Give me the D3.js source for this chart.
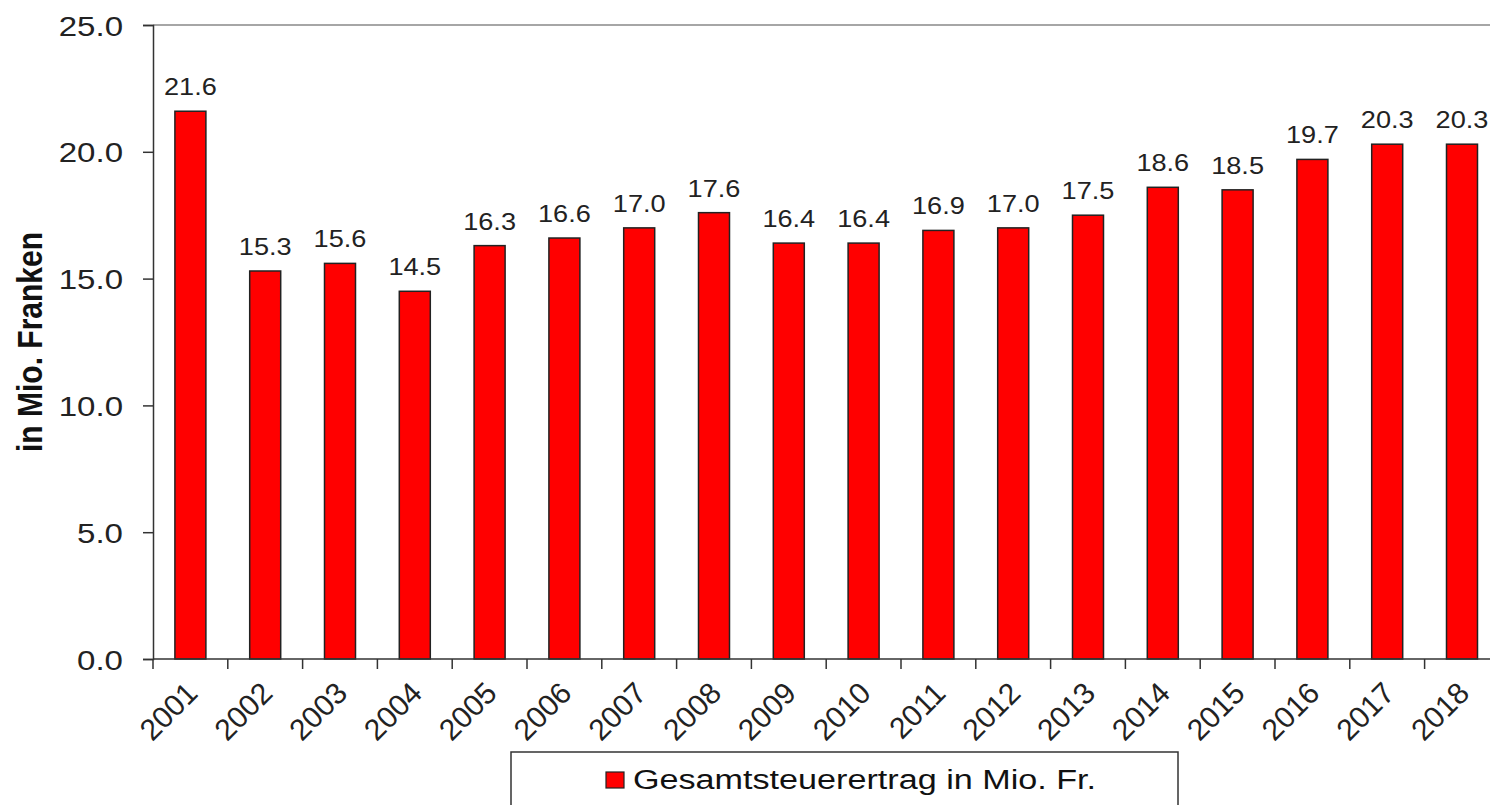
<!DOCTYPE html>
<html>
<head>
<meta charset="utf-8">
<script src="https://cdn.jsdelivr.net/npm/d3@7"></script>
<style>
  body { margin: 0; background: #fff; }
  svg { display: block; font-family: "Liberation Sans", Arial, sans-serif; }
</style>
</head>
<body>
<svg id="chart" width="1490" height="805"></svg>
<script>
// data
var years = ["2001", "2002", "2003", "2004", "2005", "2006", "2007", "2008", "2009",
             "2010", "2011", "2012", "2013", "2014", "2015", "2016", "2017", "2018"];
var values = [21.6, 15.3, 15.6, 14.5, 16.3, 16.6, 17.0, 17.6, 16.4,
              16.4, 16.9, 17.0, 17.5, 18.6, 18.5, 19.7, 20.3, 20.3];
var yTicks = [0, 5, 10, 15, 20, 25];
var seriesName = "Gesamtsteuerertrag in Mio. Fr.";
var yTitle = "in Mio. Franken";

// the source image is stretched sideways, so text gets a horizontal scale
var sx = 1.18;
var translate = function(x, y) { return "translate(" + x + "," + y + ")"; };

var svg = d3.select("#chart");
var margin = { left: 153, top: 25, bottom: 659 };
var bandW = 74.8;

var x = d3.scaleBand()
  .domain(years)
  .range([margin.left, margin.left + years.length * bandW]);

var y = d3.scaleLinear()
  .domain([0, 25])
  .range([margin.bottom, margin.top]);

// top frame line
svg.append("line")
  .attr("x1", margin.left).attr("x2", 1490)
  .attr("y1", y(25)).attr("y2", y(25))
  .attr("stroke", "#888").attr("stroke-width", 1.5);

// bars
var barW = 31;
svg.append("g").selectAll("rect")
  .data(values)
  .enter().append("rect")
  .attr("x", function(d, i) { return x(years[i]) + (x.bandwidth() - barW) / 2; })
  .attr("y", function(d) { return y(d); })
  .attr("width", barW)
  .attr("height", function(d) { return y(0) - y(d); })
  .attr("fill", "#ff0000")
  .attr("stroke", "#222")
  .attr("stroke-width", 1.5);

// value labels
svg.append("g").selectAll("text")
  .data(values)
  .enter().append("text")
  .attr("transform", function(d, i) {
    return translate(x(years[i]) + x.bandwidth() / 2, y(d) - 16) + " scale(" + sx + ",1)";
  })
  .attr("text-anchor", "middle")
  .style("font-size", "23px")
  .style("fill", "#222")
  .text(function(d) { return d3.format(".1f")(d); });

// y axis
var yAxis = d3.axisLeft(y)
  .tickValues(yTicks)
  .tickSize(10)
  .tickFormat(d3.format(".1f"));

var gy = svg.append("g")
  .attr("transform", translate(margin.left, 0))
  .call(yAxis);
gy.select(".domain").attr("stroke", "#333").attr("stroke-width", 1.5);
gy.selectAll(".tick line").attr("stroke", "#333").attr("stroke-width", 1.5);
gy.selectAll(".tick text")
  .attr("x", null).attr("dy", null)
  .attr("transform", "translate(-30,10) scale(" + sx + ",1)")
  .attr("text-anchor", "end")
  .style("font-size", "28px")
  .style("font-family", "Liberation Sans, Arial, sans-serif")
  .attr("fill", "#222");

// x axis: ticks sit on the category boundaries
var boundaries = years.map(function(d) { return x(d); });
var gx = svg.append("g");
gx.append("line")
  .attr("x1", margin.left).attr("x2", 1490)
  .attr("y1", y(0)).attr("y2", y(0))
  .attr("stroke", "#333").attr("stroke-width", 1.5);
gx.selectAll(".xtick")
  .data(boundaries)
  .enter().append("line")
  .attr("class", "xtick")
  .attr("x1", function(d) { return d; }).attr("x2", function(d) { return d; })
  .attr("y1", y(0)).attr("y2", y(0) + 10)
  .attr("stroke", "#333").attr("stroke-width", 1.5);

gx.selectAll("text")
  .data(years)
  .enter().append("text")
  .attr("transform", function(d) {
    return translate(x(d) + x.bandwidth() / 2 + 9, y(0) + 36) + " rotate(-45)";
  })
  .attr("text-anchor", "end")
  .style("font-size", "30px")
  .style("fill", "#222")
  .text(function(d) { return d; });

// y axis title
svg.append("text")
  .attr("transform", translate(42, (y(0) + y(25)) / 2) + " scale(" + sx + ",1) rotate(-90)")
  .attr("text-anchor", "middle")
  .style("font-size", "30px")
  .style("font-weight", "bold")
  .style("fill", "#111")
  .text(yTitle);

// legend
var legend = svg.append("g");
legend.append("rect")
  .attr("x", 511).attr("y", 752)
  .attr("width", 667).attr("height", 70)
  .attr("fill", "white")
  .attr("stroke", "#333").attr("stroke-width", 1.5);
legend.append("rect")
  .attr("x", 606).attr("y", 772)
  .attr("width", 18).attr("height", 16)
  .attr("fill", "#ff0000")
  .attr("stroke", "#222").attr("stroke-width", 1.2);
legend.append("text")
  .attr("transform", translate(633, 789) + " scale(1.22,1)")
  .style("font-size", "28px")
  .style("fill", "#111")
  .text(seriesName);
</script>
</body>
</html>
